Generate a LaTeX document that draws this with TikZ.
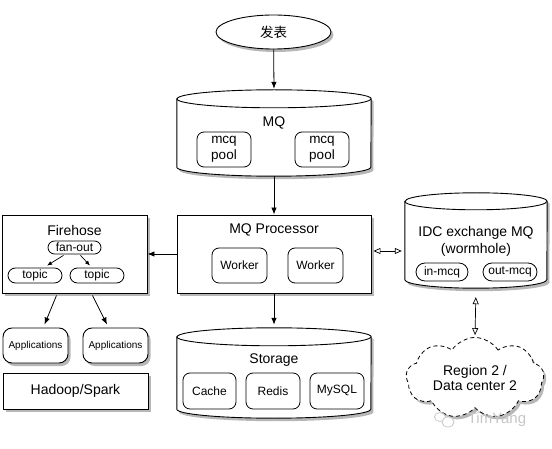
\documentclass[tikz,border=0pt]{standalone}
\usepackage{fontspec}
\setmainfont{Liberation Sans}
\newfontfamily\cjk{Noto Sans CJK SC}
\usetikzlibrary{shapes.geometric,shapes.symbols,shadows,arrows.meta,calc}

\newcommand\drawcyl[3]{%
  \path[draw,line width=0.9pt,fill=white,shad]
    ($(#1.north west)+(0,-#3)$) -- ($(#1.south west)+(0,#3)$)
    arc[start angle=180,end angle=360,x radius=#2pt,y radius=#3pt]
    -- ($(#1.north east)+(0,-#3)$)
    arc[start angle=0,end angle=180,x radius=#2pt,y radius=#3pt] -- cycle;
  \draw[line width=0.9pt] ($(#1.north west)+(0,-#3)$)
    arc[start angle=180,end angle=360,x radius=#2pt,y radius=#3pt];
}

\begin{document}
\begin{tikzpicture}[x=1pt,y=1pt,
  shad/.style={drop shadow={shadow xshift=2.5pt,shadow yshift=-3pt,opacity=0.4,fill=black!70}},
  outer/.style={draw,line width=0.9pt,fill=white,shad,inner sep=0pt},
  inbox/.style={draw,line width=0.8pt,rounded corners=7pt,inner sep=0pt,fill=white},
  pill/.style={draw,line width=0.8pt,inner sep=0pt,fill=white},
  area/.style={inner sep=0pt,draw=none},
  big/.style={font=\fontsize{14}{16}\selectfont},
  mid/.style={font=\fontsize{12}{14}\selectfont},
  arr/.style={-{Latex[length=7pt,width=5.5pt]},line width=0.8pt},
  sarr/.style={-{Latex[length=5pt,width=4pt]},line width=0.7pt},
  darr/.style={{Triangle[open,length=7pt,width=6pt]}-{Triangle[open,length=7pt,width=6pt]},line width=0.7pt}
]
\useasboundingbox[fill=white] (0,0) rectangle (552,-449);

% publish
\node[ellipse,outer,minimum width=115pt,minimum height=34pt,font=\cjk\fontsize{13.5}{15}\selectfont] (pub) at (273.5,-32) {发表};

% MQ cylinder
\node[area,minimum width=194pt,minimum height=86pt] (mq) at (274,-133) {};
\drawcyl{mq}{97}{9}
\node[big] (mqt) at (274,-123) {MQ};
\node[inbox,minimum width=54pt,minimum height=35pt,align=center,font=\fontsize{13.5}{15.5}\selectfont] (pool1) at (224,-149.5) {mcq\\pool};
\node[inbox,minimum width=54pt,minimum height=35pt,align=center,font=\fontsize{13.5}{15.5}\selectfont] (pool2) at (322,-149.5) {mcq\\pool};

% MQ Processor
\node[outer,minimum width=194pt,minimum height=78pt] (mqp) at (274,-254) {};
\node[big] (mqpt) at (274,-230) {MQ Processor};
\node[inbox,mid,minimum width=55pt,minimum height=35pt] (w1) at (239.5,-265.5) {Worker};
\node[inbox,mid,minimum width=55pt,minimum height=35pt] (w2) at (315.5,-265.5) {Worker};

% Storage
\node[area,minimum width=194pt,minimum height=90pt] (st) at (274,-373) {};
\drawcyl{st}{97}{9}
\node[big] (stt) at (274,-360) {Storage};
\node[inbox,mid,minimum width=53pt,minimum height=36pt] (cache) at (209.5,-391) {Cache};
\node[inbox,mid,minimum width=54pt,minimum height=36pt] (redis) at (273,-391) {Redis};
\node[inbox,mid,minimum width=54pt,minimum height=36pt] (mysql) at (337,-391) {MySQL};

% IDC exchange
\node[area,minimum width=142pt,minimum height=95pt] (idc) at (476,-240.5) {};
\drawcyl{idc}{71}{8.5}
\node[big,align=center,font=\fontsize{14}{17}\selectfont] (idct) at (476,-241.5) {IDC exchange MQ\\(wormhole)};
\node[pill,rounded corners=9pt,mid,minimum width=52pt,minimum height=18pt] (inm) at (442,-272) {in-mcq};
\node[pill,rounded corners=9pt,mid,minimum width=54pt,minimum height=18pt] (outm) at (510,-272) {out-mcq};

% Cloud
\node[cloud,draw,dash pattern=on 4pt off 3pt,line width=0.8pt,fill=white,shad,cloud puffs=9,cloud puff arc=115,aspect=1.9,minimum width=138pt,minimum height=73pt,inner sep=0pt,align=center,big,font=\fontsize{14}{15.5}\selectfont] (cloud) at (475,-378) {Region 2 /\\Data center 2};

% Firehose
\node[outer,minimum width=145pt,minimum height=78pt] (fire) at (74.5,-254) {};
\node[big] (firet) at (74.5,-230) {Firehose};
\node[pill,rounded corners=6.5pt,mid,minimum width=53pt,minimum height=13pt] (fan) at (74.5,-247.5) {fan-out};
\node[pill,rounded corners=7.5pt,mid,minimum width=54pt,minimum height=15pt] (t1) at (35,-275.5) {topic};
\node[pill,rounded corners=7.5pt,mid,minimum width=54pt,minimum height=15pt] (t2) at (97,-275.5) {topic};

% Applications
\node[outer,rounded corners=9pt,minimum width=65pt,minimum height=35pt,font=\fontsize{10}{12}\selectfont] (app1) at (35.5,-345.5) {Applications};
\node[outer,rounded corners=9pt,minimum width=65pt,minimum height=35pt,font=\fontsize{10}{12}\selectfont] (app2) at (115.5,-345.5) {Applications};
\node[outer,big,minimum width=145pt,minimum height=36pt] (hadoop) at (75.5,-391) {Hadoop/Spark};

% connectors
\draw[arr,shorten >=1pt] (pub) -- (mq.north);
\draw[arr] (mq.south) -- (mqp.north);
\draw[arr,shorten >=3pt] (mqp.south) -- (st.north);
\draw[arr] (mqp.west) -- (fire.east);
\draw[darr] ($(mqp.east)+(2,3)$) -- ($(idc.west)+(-3,-10.5)$);
\draw[darr,shorten <=9pt,shorten >=2pt] (idc.south) -- (cloud.north);
\draw[sarr] ($(fan.south)+(-11,-1)$) -- ($(t1.north)+(12,2)$);
\draw[sarr] ($(fan.south)+(6,-1)$) -- ($(t2.north)+(-7,2)$);
\draw[arr] ($(fire.south)+(-18,-2)$) -- ($(app1.north)+(9,3)$);
\draw[arr] ($(fire.south)+(18,-2)$) -- ($(app2.north)+(-8.5,3)$);

% watermark
\node[text=gray!45,font=\fontsize{15}{17}\selectfont] (wm) at (497,-420) {TimYang};
\node[ellipse,draw=gray!45,line width=0.7pt,minimum width=11pt,minimum height=9pt,inner sep=0pt] (wc1) at (440,-417) {};
\node[ellipse,draw=gray!45,fill=white,line width=0.7pt,minimum width=12pt,minimum height=10pt,inner sep=0pt] (wc2) at (448,-422) {};
\end{tikzpicture}
\end{document}
